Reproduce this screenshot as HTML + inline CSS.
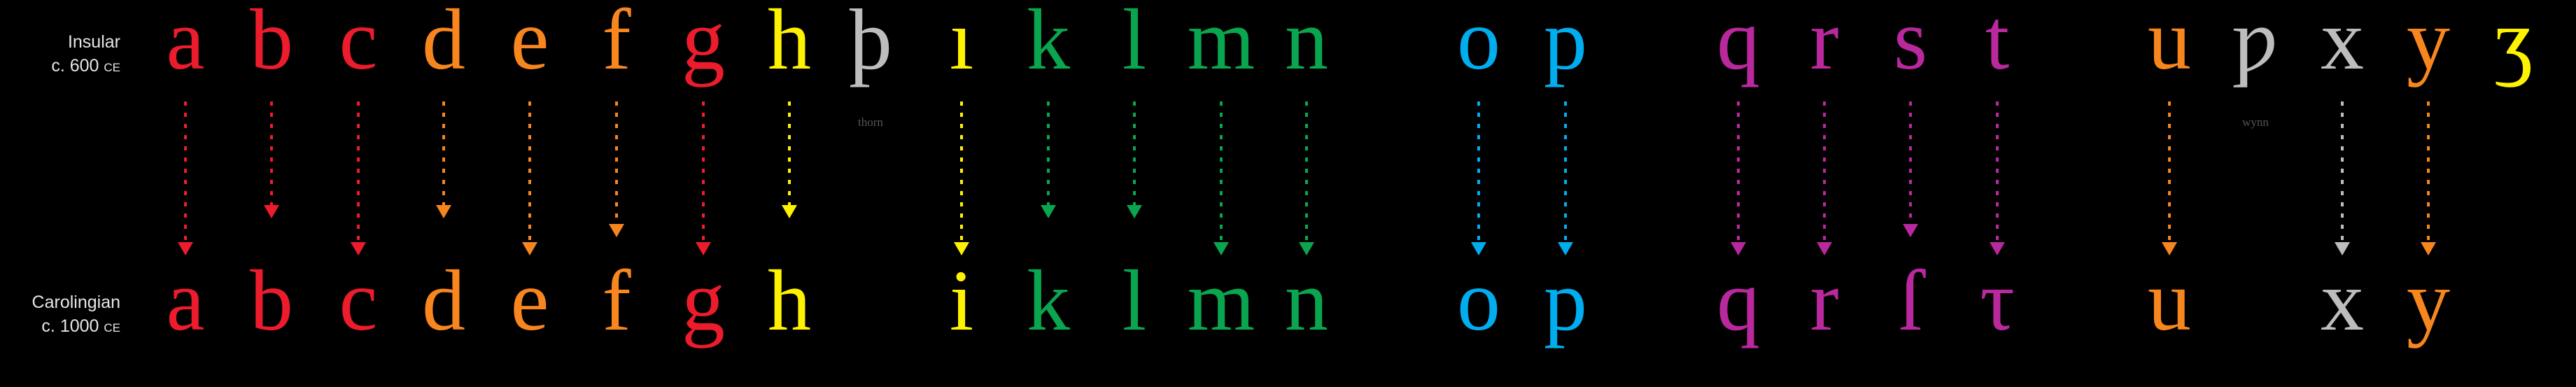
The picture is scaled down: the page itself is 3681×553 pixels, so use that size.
<!DOCTYPE html>
<html><head><meta charset="utf-8">
<style>
html,body{margin:0;padding:0;background:#000;width:3681px;height:553px;overflow:hidden}
svg{display:block}
.lbl{font-family:"Liberation Sans",sans-serif;font-size:25px;fill:#e6e6e6}
.sc{font-size:17px}
.note{font-family:"Liberation Serif",serif;font-size:17px;fill:#555}
.let{font-family:"Liberation Serif","DejaVu Serif",serif;font-size:124px}
</style></head>
<body>
<svg id="chart" width="3681" height="553" viewBox="0 0 3681 553" xmlns="http://www.w3.org/2000/svg">
<text class="lbl" x="172" y="68" text-anchor="end">Insular</text>
<text class="lbl" x="172" y="102" text-anchor="end">c. 600 <tspan class="sc">CE</tspan></text>
<text class="lbl" x="172" y="440" text-anchor="end">Carolingian</text>
<text class="lbl" x="172" y="474" text-anchor="end">c. 1000 <tspan class="sc">CE</tspan></text>
<g id="cols"></g>
</svg>
<script>
const insular = ["a","b","c","d","e","f","g","h","þ","ı","k","l","m","n","o","p","q","r","s","t","u","ƿ","x","y","ʒ"];
const carolingian = ["a","b","c","d","e","f","g","h","","i","k","l","m","n","o","p","q","r","ſ","τ","u","","x","y",""];
const colors = ["#ec1c2c","#ec1c2c","#ec1c2c","#f7861f","#f7861f","#f7861f","#ec1c2c","#fff200","#bdbdbd","#fff200","#0aa64f","#0aa64f","#0aa64f","#0aa64f","#00aeef","#00aeef","#b9289c","#b9289c","#b9289c","#b9289c","#f7861f","#bdbdbd","#bdbdbd","#f7861f","#fff200"];
const positions = [265,388,512,634,757,881,1005,1128,1244,1374,1498,1621,1745,1867,2113,2237,2484,2607,2730,2854,3100,3223,3347,3470,3592];
// arrow tip y: 0 = no arrow
const arrowTips = [365,312,365,312,365,339,365,312,0,365,312,312,365,365,365,365,365,365,339,365,365,0,365,365,0];
const notes = {8:"thorn",21:"wynn"};
const NS="http://www.w3.org/2000/svg";
const g=document.getElementById('cols');
const topBase=98, botBase=471, dashTop=145;
for(let i=0;i<insular.length;i++){
  const x=positions[i], c=colors[i];
  const t=document.createElementNS(NS,'text');
  t.setAttribute('x',x);t.setAttribute('y',topBase);t.setAttribute('text-anchor','middle');
  t.setAttribute('class','let');t.setAttribute('fill',c);t.textContent=insular[i];
  
  
  g.appendChild(t);
  if(carolingian[i]){
    const b=document.createElementNS(NS,'text');
    b.setAttribute('x',x);b.setAttribute('y',botBase);b.setAttribute('text-anchor','middle');
    b.setAttribute('class','let');b.setAttribute('fill',c);b.textContent=carolingian[i];
    
    
    g.appendChild(b);
  }
  const tip=arrowTips[i];
  if(tip){
    const l=document.createElementNS(NS,'line');
    l.setAttribute('x1',x);l.setAttribute('x2',x);l.setAttribute('y1',dashTop);l.setAttribute('y2',tip-18);
    l.setAttribute('stroke',c);l.setAttribute('stroke-width',4);l.setAttribute('stroke-dasharray','6 10');
    
    
    g.appendChild(l);
    const p=document.createElementNS(NS,'polygon');
    p.setAttribute('points',`${x-11},${tip-19} ${x+11},${tip-19} ${x},${tip}`);
    p.setAttribute('fill',c);
    
    
    g.appendChild(p);
  }
  if(notes[i]){
    const n=document.createElementNS(NS,'text');
    n.setAttribute('x',x);n.setAttribute('y',180);n.setAttribute('text-anchor','middle');
    n.setAttribute('class','note');n.textContent=notes[i];
    
    
    g.appendChild(n);
  }
}
</script>
</body></html>
